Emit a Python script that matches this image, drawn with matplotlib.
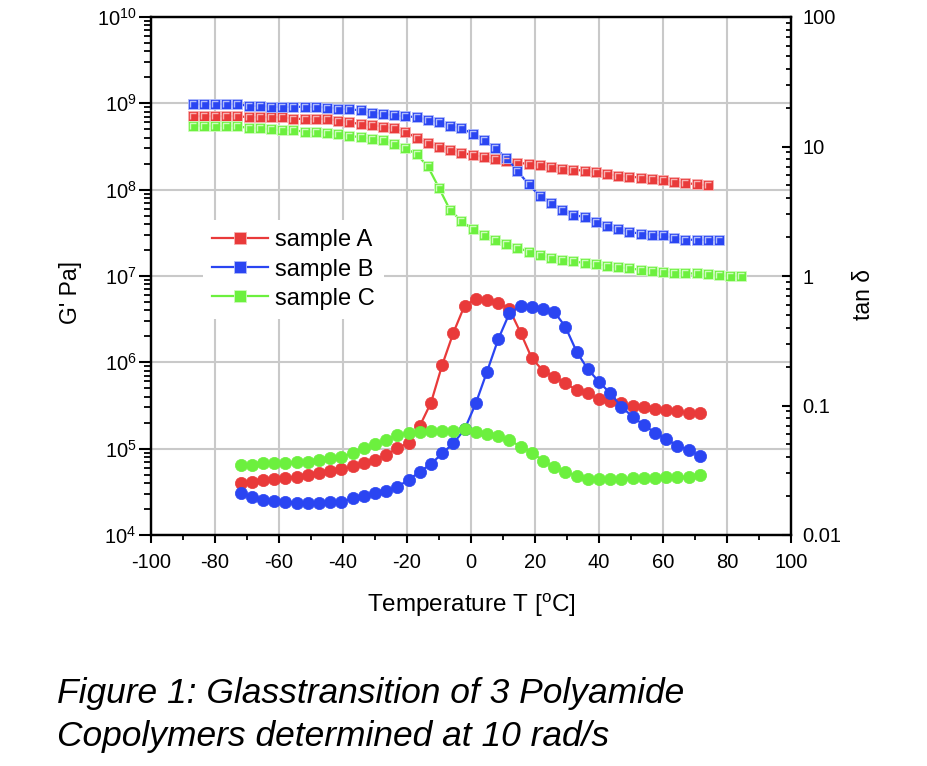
import numpy as np
import matplotlib.pyplot as plt
from matplotlib.path import Path
from matplotlib.lines import Line2D
from matplotlib.ticker import FuncFormatter, LogLocator, MultipleLocator

plt.rcParams['font.family'] = ['Liberation Sans', 'DejaVu Sans']
plt.rcParams['mathtext.fontset'] = 'custom'
plt.rcParams['mathtext.rm'] = 'Liberation Sans'
plt.rcParams['mathtext.default'] = 'regular'
plt.rcParams['axes.unicode_minus'] = False

# temperatures of the G' sweep and of the tan delta sweep
temp_g = [-87, -83.5, -80, -76.5, -73, -69.5, -66, -62.5, -59, -55.5,
          -52, -48.5, -45, -41.5, -38, -34.5, -31, -27.5, -24, -20.5,
          -17, -13.5, -10, -6.5, -3, 0.5, 4, 7.5, 11, 14.5,
          18, 21.5, 25, 28.5, 32, 35.5, 39, 42.5, 46, 49.5,
          53, 56.5, 60, 63.5, 67, 70.5, 74, 77.5, 81, 84.5]
temp_d = [-72, -68.5, -65, -61.5, -58, -54.5, -51, -47.5, -44, -40.5,
          -37, -33.5, -30, -26.5, -23, -19.5, -16, -12.5, -9, -5.5,
          -2, 1.5, 5, 8.5, 12, 15.5, 19, 22.5, 26, 29.5,
          33, 36.5, 40, 43.5, 47, 50.5, 54, 57.5, 61, 64.5, 68, 71.5]

# log10 G' [Pa]
logg_a = [8.85, 8.85, 8.85, 8.85, 8.85, 8.84, 8.84, 8.84, 8.84, 8.82,
          8.82, 8.82, 8.82, 8.80, 8.78, 8.76, 8.75, 8.73, 8.71, 8.67,
          8.60, 8.54, 8.50, 8.46, 8.43, 8.40, 8.38, 8.36, 8.33, 8.31,
          8.30, 8.28, 8.26, 8.24, 8.23, 8.22, 8.20, 8.18, 8.16, 8.15,
          8.14, 8.12, 8.11, 8.09, 8.08, 8.06, 8.05]
logg_b = [8.99, 8.99, 8.99, 8.99, 8.99, 8.97, 8.97, 8.96, 8.96, 8.96,
          8.96, 8.96, 8.95, 8.94, 8.93, 8.92, 8.89, 8.88, 8.86, 8.85,
          8.84, 8.81, 8.78, 8.74, 8.71, 8.65, 8.58, 8.48, 8.37, 8.22,
          8.06, 7.93, 7.84, 7.76, 7.71, 7.68, 7.63, 7.58, 7.54, 7.51,
          7.49, 7.48, 7.47, 7.44, 7.42, 7.42, 7.42, 7.42]
logg_c = [8.74, 8.74, 8.74, 8.74, 8.74, 8.71, 8.71, 8.70, 8.69, 8.69,
          8.67, 8.67, 8.66, 8.64, 8.62, 8.61, 8.59, 8.57, 8.53, 8.48,
          8.41, 8.27, 8.02, 7.76, 7.64, 7.54, 7.47, 7.42, 7.37, 7.33,
          7.28, 7.24, 7.21, 7.19, 7.17, 7.15, 7.14, 7.12, 7.10, 7.09,
          7.07, 7.06, 7.05, 7.04, 7.03, 7.03, 7.02, 7.01, 7.00, 7.00]

# log10 tan delta
logd_a = [-1.60, -1.59, -1.575, -1.57, -1.562, -1.55, -1.537, -1.519, -1.503, -1.49,
          -1.47, -1.446, -1.42, -1.38, -1.33, -1.287, -1.158, -0.978, -0.687, -0.438,
          -0.228, -0.18, -0.188, -0.206, -0.257, -0.438, -0.635, -0.731, -0.778, -0.829,
          -0.88, -0.906, -0.952, -0.963, -0.983, -1.004, -1.014, -1.03, -1.035, -1.04,
          -1.056, -1.056]
logd_b = [-1.673, -1.704, -1.73, -1.735, -1.743, -1.75, -1.75, -1.75, -1.743, -1.743,
          -1.717, -1.70, -1.673, -1.658, -1.627, -1.575, -1.511, -1.452, -1.369, -1.292,
          -1.184, -0.983, -0.739, -0.489, -0.288, -0.232, -0.237, -0.257, -0.276, -0.392,
          -0.584, -0.72, -0.816, -0.906, -1.009, -1.087, -1.151, -1.21, -1.261, -1.31,
          -1.344, -1.39]
logd_c = [-1.459, -1.459, -1.446, -1.442, -1.442, -1.440, -1.434, -1.421, -1.408, -1.395,
          -1.369, -1.33, -1.297, -1.266, -1.228, -1.21, -1.202, -1.195, -1.195, -1.198,
          -1.18, -1.202, -1.22, -1.236, -1.266, -1.318, -1.364, -1.426, -1.477, -1.511,
          -1.544, -1.57, -1.57, -1.57, -1.57, -1.562, -1.562, -1.562, -1.554, -1.554,
          -1.554, -1.537]

labels = ['sample A', 'sample B', 'sample C']
colors = ['#e93a3a', '#2a45f2', '#6cf03e']
lights = ['#f7b0b0', '#b0bcfb', '#cdfbbd']

# little light corner drawn inside each square, like the original symbols
corner = Path([(0.5, 0.5), (-0.24, -0.28), (-0.24, 0.24), (0.28, 0.24)],
              [Path.MOVETO, Path.MOVETO, Path.LINETO, Path.LINETO])

fig = plt.figure(figsize=(9.27, 7.66), dpi=100)
ax = fig.add_axes([151/927, 1-535/766, 640/927, 518/766])
ax2 = ax.twinx()

gdata = [logg_a, logg_b, logg_c]
ddata = [logd_a, logd_b, logd_c]
for i in range(3):
    tg = temp_g[:len(gdata[i])]
    g = 10.0 ** np.array(gdata[i])
    ax.plot(tg, g, color=colors[i], lw=1.6, marker='s', ms=7.8,
            mfc=colors[i], mec=lights[i], mew=0.6, zorder=3)
    ax.plot(tg, g, ls='none', marker=corner, ms=7.8, mfc='none',
            mec=lights[i], mew=1.0, zorder=4)
    d = 10.0 ** np.array(ddata[i])
    ax2.plot(temp_d, d, color=colors[i], lw=1.6, marker='o', ms=8.8,
             mfc=colors[i], mec=colors[i], mew=0.5, zorder=3)

ax.set_xlim(-100, 100)
ax.set_yscale('log')
ax.set_ylim(1e4, 1e10)
ax2.set_yscale('log')
ax2.set_ylim(0.01, 100)

ax.xaxis.set_major_locator(MultipleLocator(20))
ax.xaxis.set_minor_locator(MultipleLocator(10))
ax.yaxis.set_major_locator(LogLocator(base=10, numticks=10))
ax.yaxis.set_minor_locator(LogLocator(base=10, subs=np.arange(2, 10), numticks=10))
ax2.yaxis.set_major_locator(LogLocator(base=10, numticks=10))
ax2.yaxis.set_minor_locator(LogLocator(base=10, subs=np.arange(2, 10), numticks=10))
ax.yaxis.set_major_formatter(FuncFormatter(lambda v, p: '$10^{%d}$' % round(np.log10(v))))
ax2.yaxis.set_major_formatter(FuncFormatter(lambda v, p: '%g' % v))

ax.grid(True, which='major', color='#c9c9c9', lw=1.5)
ax.set_axisbelow(True)
for a in (ax, ax2):
    for s in a.spines.values():
        s.set_linewidth(1.6)
ax.tick_params(axis='x', which='major', direction='out', length=6, width=1.5,
               labelsize=14.5, pad=7, top=False)
ax.tick_params(axis='x', which='minor', direction='out', length=3.5, width=1.3, top=False)
ax.tick_params(axis='y', which='major', direction='out', length=8.5, width=1.5,
               labelsize=14.5, pad=2)
ax.tick_params(axis='y', which='minor', direction='out', length=5, width=1.3)
ax2.tick_params(axis='y', which='major', direction='in', length=6.5, width=1.5,
                labelsize=14.5, pad=8)
ax2.tick_params(axis='y', which='minor', direction='in', length=3.6, width=1.3)

handles = [Line2D([], [], color=colors[i], lw=1.6, marker='s', ms=9,
                  mfc=colors[i], mec=lights[i], mew=0.6) for i in range(3)]
leg = ax2.legend(handles, labels, loc='upper left',
                 bbox_to_anchor=((203-151)/640, (535-220)/518),
                 frameon=True, fancybox=False, framealpha=1, facecolor='white',
                 edgecolor='none', fontsize=17, handlelength=2.35,
                 handletextpad=0.3, labelspacing=0.3, borderpad=0.4,
                 borderaxespad=0)
leg.set_zorder(10)

fig.text(70/927, 1-292/766, "G' Pa]", rotation=90, ha='center', va='center', fontsize=16.5)
fig.text(864/927, 1-295/766, 'tan δ', rotation=90, ha='center', va='center', fontsize=16.5)
fig.text(471/927, 1-612/766, 'Temperature T [$^{o}$C]', ha='center', va='baseline', fontsize=17.5)

fig.text(57/927, 1-703/766, 'Figure 1: Glasstransition of 3 Polyamide',
         style='italic', fontsize=25.5, va='baseline', ha='left')
fig.text(57/927, 1-746/766, 'Copolymers determined at 10 rad/s',
         style='italic', fontsize=25.5, va='baseline', ha='left')

fig.savefig('out.png', dpi=100)
